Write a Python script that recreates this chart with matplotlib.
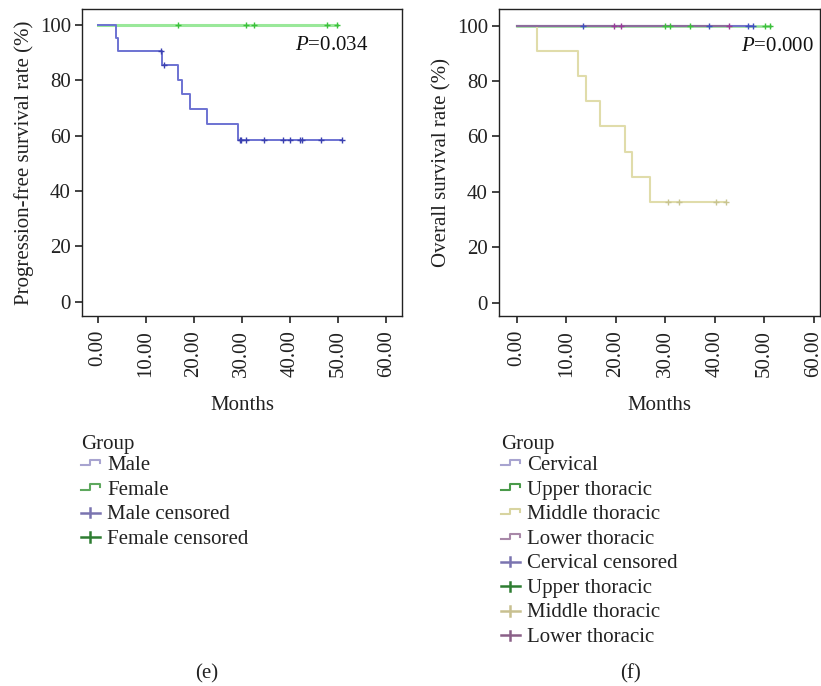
import numpy as np
import matplotlib
matplotlib.use("Agg")
import matplotlib.pyplot as plt
from matplotlib.lines import Line2D
from matplotlib.legend_handler import HandlerBase

plt.rcParams['font.family'] = ['Liberation Serif', 'DejaVu Serif']
plt.rcParams['mathtext.fontset'] = 'custom'
plt.rcParams['mathtext.rm'] = 'Liberation Serif'
plt.rcParams['mathtext.it'] = 'Liberation Serif:italic'
FS = 15

# ---------------- data (e) ----------------
male_times = [0, 3.85, 4.3, 13.4, 16.8, 17.6, 19.3, 22.8, 29.2]
male_surv = [100, 95.2, 90.5, 85.7, 80.0, 75.0, 69.8, 64.1, 58.3]
male_censor = [13.2, 13.8, 29.6, 29.9, 30.8, 34.6, 38.5, 40.0, 42.1, 42.6, 46.4, 50.8]

female_times = [0]
female_surv = [100]
female_censor = [16.6, 30.8, 32.5, 47.6, 49.7]

# ---------------- data (f) ----------------
cerv_times = [0]
cerv_surv = [100]
cerv_censor = [13.4, 38.8, 46.8, 47.8]

upper_times = [0]
upper_surv = [100]
upper_censor = [30.0, 31.0, 35.0, 50.2, 51.1]

middle_times = [0, 4.1, 12.3, 13.9, 16.7, 21.8, 23.3, 26.9]
middle_surv = [100, 90.9, 81.8, 72.7, 63.6, 54.5, 45.5, 36.4]
middle_censor = [30.5, 32.7, 40.3, 42.3]

lower_times = [0]
lower_surv = [100]
lower_censor = [19.6, 21.0, 42.9]

xticks = [0, 10, 20, 30, 40, 50, 60]
xticklabels = ["0.00", "10.00", "20.00", "30.00", "40.00", "50.00", "60.00"]
yticks = [0, 20, 40, 60, 80, 100]


def km(ax, times, surv, censor, lcolor, ccolor, lw=1.3, alpha=1.0):
    t = np.array(times, float)
    s = np.array(surv, float)
    end = max(t.max(), max(censor) if censor else 0)
    xs = np.append(t, end)
    ys = np.append(s, s[-1])
    ax.step(xs, ys, where='post', color=lcolor, lw=lw, alpha=alpha, zorder=2)
    c = np.array(censor, float)
    idx = np.searchsorted(t, c, side='right') - 1
    ax.plot(c, s[idx], ls='none', marker='+', ms=5, mew=1.0, color=ccolor, zorder=3)


class StepKey:
    def __init__(self, color):
        self.color = color


class PlusKey:
    def __init__(self, color):
        self.color = color


class StepHandler(HandlerBase):
    def create_artists(self, legend, orig_handle, xdescent, ydescent, width, height, fontsize, trans):
        x0 = -xdescent
        w = width
        yl = -ydescent + height * 0.32
        yh = -ydescent + height * 0.70
        xs = [x0, x0 + w * 0.5, x0 + w * 0.5, x0 + w, x0 + w]
        ys = [yl, yl, yh, yh, yl + (yh - yl) * 0.45]
        return [Line2D(xs, ys, color=orig_handle.color, lw=1.5, transform=trans)]


class PlusHandler(HandlerBase):
    def create_artists(self, legend, orig_handle, xdescent, ydescent, width, height, fontsize, trans):
        x0 = -xdescent
        w = width
        yc = -ydescent + height * 0.45
        h1 = Line2D([x0, x0 + w], [yc, yc], color=orig_handle.color, lw=1.8, transform=trans)
        h2 = Line2D([x0 + w / 2, x0 + w / 2], [yc - height * 0.32, yc + height * 0.32],
                    color=orig_handle.color, lw=1.8, transform=trans)
        return [h1, h2]


def style(ax, ylabel, xlim, ylim):
    ax.set_xlim(*xlim)
    ax.set_ylim(*ylim)
    ax.set_xticks(xticks)
    ax.set_xticklabels(xticklabels, rotation=90, fontsize=FS)
    ax.set_yticks(yticks)
    ax.set_yticklabels([str(v) for v in yticks], fontsize=FS)
    ax.tick_params(direction='out', length=5, width=1.2, pad=3, colors='#222222')
    ax.tick_params(axis='x', pad=5)
    for sp in ax.spines.values():
        sp.set_linewidth(1.0)
        sp.set_color('#222222')
    ax.set_xlabel("Months", fontsize=FS, labelpad=14, color='#222222')
    ax.set_ylabel(ylabel, fontsize=FS, labelpad=4, color='#222222')


fig = plt.figure(figsize=(8.21, 6.86), dpi=100)
W, H = 821, 686
axL = fig.add_axes([82 / W, 1 - 316 / H, 320 / W, 307 / H])
axR = fig.add_axes([499 / W, 1 - 316 / H, 321 / W, 307 / H])

# (e)
km(axL, female_times, female_surv, female_censor, '#9ae89a', '#3cc03c', lw=2.2)
km(axL, male_times, male_surv, male_censor, '#6c72d2', '#3a40b0', lw=1.4)
style(axL, "Progression-free survival rate (%)", (-3.27, 63.3), (-5.2, 105.8))
axL.text(41.0, 92.6, r"$P$=0.034", fontsize=FS, ha='left', va='center', color='#111111')

# (f)
km(axR, upper_times, upper_surv, upper_censor, '#8ee08e', '#3cc03c', lw=1.8)
km(axR, cerv_times, cerv_surv, cerv_censor, '#7474c8', '#4050c0', lw=1.5)
km(axR, middle_times, middle_surv, middle_censor, '#e0dcaa', '#c8c490', lw=1.5)
km(axR, lower_times, lower_surv, lower_censor, '#8c6c9c', '#9a3a9a', lw=1.5)
style(axR, "Overall survival rate (%)", (-3.64, 61.3), (-4.8, 106.0))
axR.text(45.4, 92.6, r"$P$=0.000", fontsize=FS, ha='left', va='center', color='#111111')


legL_handles = [StepKey('#a8a4d0'), StepKey('#5ea85e'), PlusKey('#7a74b0'), PlusKey('#2e7d32')]
legL_labels = ["Male", "Female", "Male censored", "Female censored"]
legR_handles = [StepKey('#a8a4d0'), StepKey('#4a9a4a'), StepKey('#d8d4a0'), StepKey('#a888a8'),
                PlusKey('#7a74b0'), PlusKey('#2e7d32'), PlusKey('#c8c090'), PlusKey('#8a6088')]
legR_labels = ["Cervical", "Upper thoracic", "Middle thoracic", "Lower thoracic",
               "Cervical censored", "Upper thoracic", "Middle thoracic", "Lower thoracic"]

for handles, labels, x in [(legL_handles, legL_labels, 81), (legR_handles, legR_labels, 501)]:
    leg = fig.legend(handles, labels, title="Group", loc='upper left',
                     bbox_to_anchor=(x / W, 1 - 435 / H), frameon=False,
                     fontsize=FS, title_fontsize=FS, handlelength=0.9, handletextpad=0.35,
                     labelspacing=0.24, borderpad=0, borderaxespad=0,
                     handler_map={StepKey: StepHandler(), PlusKey: PlusHandler()})
    leg._legend_box.align = "left"
    leg._legend_box.sep = 1
    for t in leg.get_texts():
        t.set_color('#222222')
    leg.get_title().set_color('#222222')

fig.text(207 / W, 1 - 674 / H, "(e)", fontsize=FS, ha='center', va='center', color='#222222')
fig.text(630 / W, 1 - 674 / H, "(f)", fontsize=FS, ha='center', va='center', color='#222222')

fig.savefig("out.png", dpi=100)
